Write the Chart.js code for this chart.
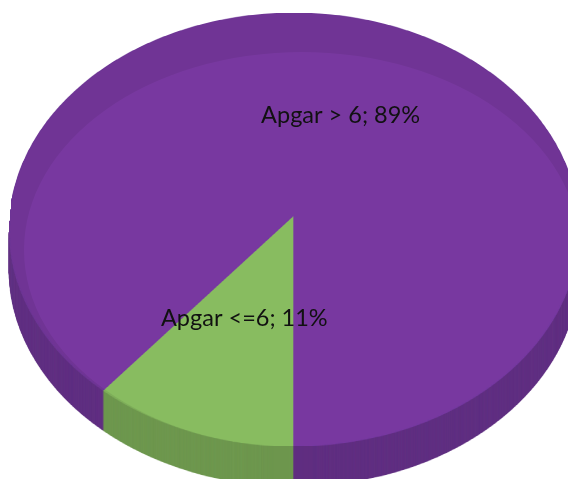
<!DOCTYPE html>
<html>
<head>
<meta charset="utf-8">
<script src="https://cdn.jsdelivr.net/npm/chart.js@4.4.1/dist/chart.umd.min.js"></script>
<style>
  html, body { margin: 0; padding: 0; background: #ffffff; }
  #wrap { position: relative; width: 568px; height: 479px; }
</style>
</head>
<body>
<div id="wrap"><canvas id="chart"></canvas></div>
<script>
// Apgar score split
const categories = ['Apgar <=6', 'Apgar > 6'];
const shares = [11, 89];
const sliceColors = ['#87bc5f', '#7537a0'];

// Tilted-slab camera: where the disc centre, far rim and near rim land on screen
const view = { cx: 294, centreY: 215, farY: 13, nearY: 446, halfWidth: 284, depth: 40 };
// Rounded-edge shading band on the top face
const bevel = { cx: 302, cy: 250, rx: 278, ry: 198, shade: 'rgba(0,0,0,0.07)' };
const sideShade = 'rgba(0,0,0,0.2)';
const labelFont = '23.5px Lato';
const labelColor = '#111111';

function makeProjection(v) {
  // y(t) = (a + b t) / (1 + c t), t in [-1, 1] from far rim to near rim
  const a = v.centreY;
  const c = (2 * a - v.farY - v.nearY) / (v.nearY - v.farY);
  const b = v.nearY - a + v.nearY * c;
  return {
    a, b, c, cx: v.cx, s: v.halfWidth,
    x: (u, t) => v.cx + v.halfWidth * u / (1 + c * t),
    y: (t) => (a + b * t) / (1 + c * t),
    t: (y) => (y - a) / (b - c * y)
  };
}

function makeCanvas(w, h) {
  const c = document.createElement('canvas');
  c.width = w; c.height = h;
  return c;
}

const slab3d = {
  id: 'slab3d',
  beforeDatasetsDraw(chart) {
    const arcs = chart.getDatasetMeta(0).data;
    if (!arcs.length) return false;
    const W = chart.width, H = chart.height;
    const R = arcs[0].outerRadius, ox = arcs[0].x, oy = arcs[0].y;

    // 1. flat pie, drawn by the arc elements into a large square buffer
    const RS = 400;
    const src = makeCanvas(2 * RS, 2 * RS);
    const sctx = src.getContext('2d');
    const k = RS / R;
    sctx.setTransform(k, 0, 0, k, RS - k * ox, RS - k * oy);
    arcs.forEach(a => a.draw(sctx));

    // 2. tilt it into perspective, row by row (4 sub-rows per pixel)
    const P = makeProjection(view);
    const top = makeCanvas(W, H);
    const tctx = top.getContext('2d');
    tctx.globalCompositeOperation = 'lighter';
    const SUB = 4;
    tctx.globalAlpha = 1 / SUB;
    for (let y = Math.floor(view.farY) - 1; y <= Math.ceil(view.nearY) + 1; y++) {
      for (let j = 0; j < SUB; j++) {
        const yy = y + (j + 0.5) / SUB;
        const t = P.t(yy);
        if (t <= -1 || t >= 1) continue;
        const sy = Math.min(2 * RS - 1, Math.max(0, Math.floor((t + 1) * RS)));
        const hw = P.s / (1 + P.c * t);
        tctx.drawImage(src, 0, sy, 2 * RS, 1, P.cx - hw, y, 2 * hw, 1);
      }
    }
    tctx.globalAlpha = 1;

    // 3. darker copy for the slab wall
    const side = makeCanvas(W, H);
    const sd = side.getContext('2d');
    sd.drawImage(top, 0, 0);
    sd.globalCompositeOperation = 'source-atop';
    sd.fillStyle = sideShade;
    sd.fillRect(0, 0, W, H);

    // 4. rounded-edge band on the top face
    tctx.globalCompositeOperation = 'source-atop';
    tctx.beginPath();
    tctx.rect(0, 0, W, H);
    tctx.ellipse(bevel.cx, bevel.cy, bevel.rx, bevel.ry, 0, 0, Math.PI * 2);
    tctx.fillStyle = bevel.shade;
    tctx.fill('evenodd');

    // 5. compose: wall layers first, then the top face
    const ctx = chart.ctx;
    ctx.save();
    for (let d = view.depth; d >= 1; d--) ctx.drawImage(side, 0, d);
    ctx.drawImage(top, 0, 0);

    // 6. data labels at each slice's mid point
    const total = shares.reduce((s, v) => s + v, 0);
    ctx.font = labelFont;
    ctx.fillStyle = labelColor;
    ctx.textAlign = 'center';
    ctx.textBaseline = 'alphabetic';
    arcs.forEach((a, i) => {
      const p = a.tooltipPosition();
      const u = (p.x - a.x) / R, t = (p.y - a.y) / R;
      const pct = Math.round(shares[i] / total * 100);
      ctx.fillText(categories[i] + '; ' + pct + '%', P.x(u, t), P.y(t) + 6.5);
    });
    ctx.restore();
    return false;
  }
};

new Chart(document.getElementById('chart'), {
  type: 'pie',
  data: {
    labels: categories,
    datasets: [{
      data: shares,
      backgroundColor: sliceColors,
      borderColor: sliceColors,
      borderWidth: 1
    }]
  },
  options: {
    responsive: true,
    maintainAspectRatio: false,
    devicePixelRatio: 1,
    animation: false,
    rotation: 180,
    layout: { padding: 0 },
    events: [],
    plugins: {
      legend: { display: false },
      tooltip: { enabled: false }
    }
  },
  plugins: [slab3d]
});
</script>
</body>
</html>
